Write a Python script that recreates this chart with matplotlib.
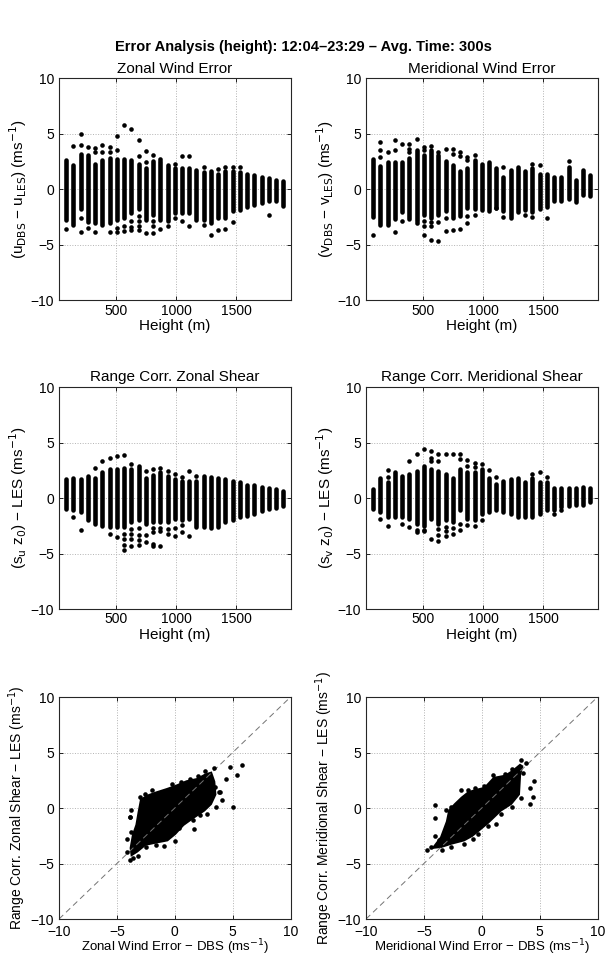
import matplotlib
matplotlib.use("Agg")
import matplotlib.pyplot as plt

plt.rcParams["font.family"] = ["Liberation Sans", "DejaVu Sans"]

# ----------------------------
# Data
# ----------------------------
HEIGHTS = [90, 150, 210, 270, 330, 390, 450, 510, 570, 630, 690, 750, 810, 870, 930, 990,
           1050, 1110, 1170, 1230, 1290, 1350, 1410, 1470, 1530, 1590, 1650, 1710, 1770, 1830, 1890]

# zonal wind error: dense column extents + isolated points (height, value)
U_LO = [-2.8, -3.2, -1.8, -3.0, -3.1, -3.2, -3.1, -2.8, -2.6, -2.2, -1.8, -2.8, -2.3, -2.8, -2.9, -2.2,
        -2.2, -2.2, -2.8, -2.8, -3.1, -2.6, -2.6, -2.0, -1.9, -1.6, -1.4, -1.3, -1.1, -1.1, -1.5]
U_HI = [2.6, 2.2, 3.2, 3.1, 2.3, 2.6, 2.8, 2.7, 2.7, 2.6, 2.3, 1.9, 2.5, 2.5, 2.2, 1.9,
        1.9, 1.9, 1.7, 1.5, 1.6, 1.4, 1.6, 1.6, 1.5, 1.4, 1.3, 1.1, 1.0, 0.8, 0.7]
U_OUT = [(90, -3.6), (150, 3.9), (210, 5.0), (210, 4.0), (210, -2.6), (210, -3.9), (270, 3.8), (270, -3.5),
         (330, 3.7), (330, 3.3), (330, -3.9), (390, 4.0), (390, 3.3), (450, 3.8), (450, 3.3), (450, -3.9),
         (510, 4.8), (510, 3.5), (510, -3.5), (510, -3.9), (570, 5.8), (570, -3.3), (570, -3.8),
         (630, 5.4), (630, -2.9), (630, -3.4), (630, -3.7), (690, 4.4), (690, 3.0), (690, -2.4),
         (690, -2.9), (690, -3.3), (690, -3.7), (750, 3.4), (750, 2.4), (750, -4.0), (810, 3.1),
         (810, -2.9), (810, -3.3), (810, -4.0), (870, 2.7), (870, -3.6), (930, -3.3), (990, 2.3),
         (990, -2.6), (1050, 3.0), (1050, -2.9), (1110, 3.0), (1110, -3.3), (1230, 2.0), (1230, -3.2),
         (1290, -4.1), (1350, 1.8), (1350, -3.7), (1410, 2.0), (1410, -3.6), (1470, 2.0), (1470, -3.0),
         (1530, 2.0), (1770, -2.3)]

# meridional wind error
V_LO = [-2.5, -3.2, -3.2, -2.7, -2.1, -2.7, -2.9, -2.3, -2.6, -2.3, -2.0, -2.6, -2.4, -1.7, -1.8, -1.9,
        -2.0, -1.7, -2.0, -2.6, -2.1, -1.9, -2.1, -1.8, -1.6, -1.1, -1.1, -0.9, -1.2, -0.5, -0.6]
V_HI = [2.7, 2.1, 2.4, 2.4, 2.4, 2.8, 3.5, 3.1, 3.5, 3.1, 2.5, 2.2, 1.6, 1.9, 2.6, 2.3,
        2.4, 1.9, 1.1, 1.7, 2.0, 1.6, 1.9, 1.4, 1.4, 1.1, 1.1, 2.0, 0.8, 1.7, 1.3]
V_OUT = [(90, -4.1), (150, 4.2), (150, 3.5), (150, 2.9), (210, 3.3), (270, 4.4), (270, 3.5), (270, -3.9),
         (330, 4.1), (330, -2.9), (390, 4.1), (390, 3.6), (390, 3.3), (450, 4.5), (450, -3.1),
         (510, 3.8), (510, 3.5), (510, -2.9), (510, -3.3), (510, -4.1), (570, 3.9), (570, -3.0),
         (570, -3.3), (570, -4.6), (630, 3.3), (630, -3.0), (630, -4.7), (690, 3.6), (690, -2.6),
         (690, -3.8), (750, 3.6), (750, 3.2), (750, -3.7), (810, 3.3), (810, 3.0), (810, -3.6),
         (870, 2.9), (870, 2.6), (870, -2.4), (870, -3.1), (930, 3.1), (930, -2.3), (1110, -1.7),
         (1170, 2.0), (1170, -2.5), (1350, -2.3), (1410, 2.3), (1410, -2.5), (1470, 2.2), (1530, -2.6),
         (1710, 2.5)]

# range corrected zonal shear
SU_LO = [-1.0, -1.1, -1.3, -2.0, -2.3, -2.5, -2.6, -2.6, -2.6, -2.2, -2.0, -2.3, -2.2, -2.2, -2.2, -1.9,
         -2.0, -1.9, -2.6, -2.6, -2.7, -2.6, -2.2, -2.0, -1.7, -1.6, -1.4, -1.2, -1.0, -0.9, -0.7]
SU_HI = [1.7, 1.8, 1.7, 2.0, 1.8, 2.3, 2.6, 2.6, 2.7, 2.6, 2.9, 1.8, 2.1, 2.3, 2.0, 1.7,
         1.5, 1.5, 1.5, 2.0, 1.9, 1.8, 1.7, 1.5, 1.4, 1.2, 1.2, 1.0, 0.9, 0.8, 0.6]
SU_OUT = [(150, -1.7), (210, -2.9), (330, 2.7), (390, 3.3), (450, 3.6), (450, -3.2), (510, 3.8),
          (510, -3.5), (570, 3.9), (570, -3.2), (570, -3.7), (570, -4.2), (570, -4.7), (630, 3.1),
          (630, -2.8), (630, -3.2), (630, -3.7), (630, -4.3), (690, -2.7), (690, -3.3), (690, -3.8),
          (690, -4.2), (750, 2.4), (750, -3.3), (750, -4.0), (810, 2.6), (810, -2.7), (810, -3.1),
          (810, -4.1), (810, -4.3), (870, 2.7), (870, -2.7), (870, -3.0), (870, -4.3), (930, 2.4),
          (930, -2.8), (930, -3.2), (990, 2.2), (990, -2.7), (990, -3.4), (1050, 1.9), (1050, -2.4),
          (1050, -3.1), (1110, 2.4), (1110, -3.4), (1170, 2.0)]

# range corrected meridional shear
SV_LO = [-1.0, -1.3, -1.7, -1.7, -1.7, -1.9, -2.3, -2.5, -1.9, -2.3, -2.0, -2.2, -1.1, -1.9, -2.0, -1.4,
         -1.3, -1.1, -1.3, -1.4, -1.7, -1.7, -1.7, -1.4, -1.1, -1.1, -0.8, -0.7, -0.6, -0.6, -0.4]
SV_HI = [0.8, 1.8, 1.4, 2.3, 2.0, 2.2, 2.4, 2.9, 2.6, 2.4, 2.2, 1.8, 2.6, 2.3, 2.3, 2.6,
         1.8, 1.3, 1.5, 1.7, 1.8, 1.4, 1.8, 1.4, 1.4, 0.9, 0.9, 0.9, 0.9, 1.0, 0.9]
SV_OUT = [(150, -1.9), (210, 2.5), (210, 1.9), (210, -2.5), (330, -2.3), (390, 3.3), (390, -2.6),
          (450, 4.0), (450, -2.9), (450, -3.1), (510, 4.4), (510, -2.9), (510, -3.0), (570, 4.2),
          (570, 3.6), (570, 3.3), (570, -3.7), (630, 4.0), (630, 3.3), (630, -2.8), (630, -3.3),
          (630, -3.9), (690, 4.0), (690, -2.6), (690, -3.0), (690, -3.4), (750, 4.0), (750, -2.7),
          (750, -3.2), (810, 4.0), (810, 3.5), (810, -2.3), (810, -2.9), (870, 3.4), (870, 2.9),
          (870, -2.4), (930, 3.2), (930, 2.8), (930, -2.5), (990, 3.1), (990, -2.0), (1050, 2.5),
          (1110, 1.9), (1410, 2.2), (1470, 2.3), (1530, 1.9), (1590, -1.4), (1650, -1.1)]

# scatter clouds: outline of the dense core + points along its ragged edge (x, y)
ZONAL_CORE_X = [-3.8, -3.9, -3.7, -3.4, -3.2, -3.0, -2.4, -1.6, -0.7, 0.1, 1.0, 1.9, 2.6, 3.2,
                3.5, 3.6, 3.2, 2.6, 1.6, 0.8, 0.1, -0.6, -1.6, -2.5, -3.2]
ZONAL_CORE_Y = [-4.4, -3.6, -2.4, -1.5, -0.3, 0.8, 1.2, 1.5, 1.8, 2.1, 2.5, 2.7, 3.1, 3.3,
                2.4, 1.2, 0.3, -0.3, -1.0, -1.6, -2.4, -3.0, -3.2, -3.4, -4.0]
ZONAL_EDGE_X = [-3.9, -4.1, -4.1, -3.8, -3.9, -3.8, -3.0, -2.6, -2.0, -0.2, 0.5, 1.3, 2.0, 2.6,
                3.4, 4.1, 3.9, 3.6, 2.8, 2.2, 1.6, 0.4, 0.0, -0.9, -1.6, -2.5, -3.2, -3.6]
ZONAL_EDGE_Y = [-4.7, -4.0, -2.8, -2.2, -0.8, -0.2, 1.0, 1.3, 1.6, 2.2, 2.3, 2.6, 2.9, 3.3,
                3.6, 0.7, 1.4, 0.1, -0.5, -0.6, -1.1, -1.8, -3.0, -3.4, -3.3, -3.5, -4.3, -4.5]
ZONAL_DOTS_X = [-3.9, 4.8, 5.8, 5.4, 4.4, 5.0, 1.7, 3.8, 3.5]
ZONAL_DOTS_Y = [-0.8, 3.7, 3.9, 3.0, 2.6, 0.1, -1.9, 1.4, 1.9]

MERID_CORE_X = [-4.4, -3.6, -3.1, -2.9, -2.4, -1.8, -1.2, -0.6, 0.2, 1.0, 2.0, 2.6, 3.3,
                3.6, 3.4, 3.3, 2.6, 1.7, 0.6, -0.2, -0.8, -1.5, -2.6, -3.5]
MERID_CORE_Y = [-3.7, -2.6, -1.2, -0.2, 0.4, 1.0, 1.5, 1.7, 1.9, 2.8, 3.0, 3.4, 4.0,
                3.8, 3.0, 1.2, 0.3, -0.3, -1.4, -2.1, -2.6, -3.0, -3.3, -3.6]
MERID_EDGE_X = [-4.7, -4.4, -4.0, -3.7, -3.4, -3.1, -2.7, -1.2, -0.6, 0.2, 1.0, 2.0, 2.6, 3.4,
                3.8, 3.6, 3.4, 2.6, 1.7, 0.5, -0.3, -0.8, -1.5, -2.7]
MERID_EDGE_Y = [-3.8, -3.5, -2.5, -2.9, -3.8, -0.2, 0.1, 1.6, 1.8, 2.0, 3.0, 3.1, 3.5, 4.3,
                4.1, 3.2, 0.9, 0.1, -0.5, -1.6, -2.3, -2.8, -3.2, -3.5]
MERID_DOTS_X = [-4.0, -4.0, -1.8, 4.5, 4.2, 4.4, 4.2, 1.2]
MERID_DOTS_Y = [0.3, -0.9, 1.6, 2.4, 1.8, 1.0, 0.4, -1.4]

UNIT = "(ms$^{-1}$)"
DOT = 3.3  # marker diameter (points)
TICK_FS = 10
TITLE_FS = 11

# ----------------------------
# Layout (MATLAB-like 3x2 subplots)
# ----------------------------
fig = plt.figure(figsize=(6.06, 9.58), dpi=100)
COL_X = [0.0974, 0.604]
ROW_Y = [0.6868, 0.3643, 0.0407]
W, H = 0.382, 0.2317


def style(ax, xpad=2.5):
    ax.grid(True, linestyle=":", color="0.7", linewidth=0.7)
    ax.set_axisbelow(True)
    ax.tick_params(direction="in", top=True, right=True, length=3, labelsize=TICK_FS, width=0.6)
    ax.tick_params(axis="x", pad=xpad)
    for s in ax.spines.values():
        s.set_linewidth(0.8)
        s.set_color("0.15")


def columns(ax, lo, hi, out, title, ylabel):
    lc = ax.vlines(HEIGHTS, lo, hi, color="k", linewidth=DOT)
    lc.set_capstyle("round")
    ax.plot([p[0] for p in out], [p[1] for p in out], "o", color="k", ms=DOT, mew=0)
    ax.set_xlim(30, 1950)
    ax.set_ylim(-10, 10)
    ax.set_xticks([500, 1000, 1500])
    ax.set_yticks([-10, -5, 0, 5, 10])
    ax.set_title(title, fontsize=TITLE_FS, pad=4)
    ax.set_xlabel("Height (m)", fontsize=11, labelpad=1)
    ax.set_ylabel(ylabel, fontsize=11, labelpad=1)
    style(ax)


def cloud(ax, cx, cy, ex, ey, dx, dy, xlabel, ylabel):
    ax.plot([-10, 10], [-10, 10], color="0.45", linestyle=(0, (6, 4)), linewidth=0.7)
    ax.fill(cx, cy, color="k", linewidth=0)
    ax.plot(ex, ey, "o", color="k", ms=DOT, mew=0)
    ax.plot(dx, dy, "o", color="k", ms=DOT, mew=0)
    ax.set_xlim(-10, 10)
    ax.set_ylim(-10, 10)
    ax.set_xticks([-10, -5, 0, 5, 10])
    ax.set_yticks([-10, -5, 0, 5, 10])
    ax.set_xlabel(xlabel, fontsize=9.5, labelpad=-1)
    ax.set_ylabel(ylabel, fontsize=10, labelpad=2)
    style(ax, xpad=4)


ax = fig.add_axes([COL_X[0], ROW_Y[0], W, H])
columns(ax, U_LO, U_HI, U_OUT, "Zonal Wind Error", "(u$_{\\rm DBS}$ − u$_{\\rm LES}$) " + UNIT)
ax = fig.add_axes([COL_X[1], ROW_Y[0], W, H])
columns(ax, V_LO, V_HI, V_OUT, "Meridional Wind Error", "(v$_{\\rm DBS}$ − v$_{\\rm LES}$) " + UNIT)
ax = fig.add_axes([COL_X[0], ROW_Y[1], W, H])
columns(ax, SU_LO, SU_HI, SU_OUT, "Range Corr. Zonal Shear", "(s$_{\\rm u}$ z$_0$) − LES " + UNIT)
ax = fig.add_axes([COL_X[1], ROW_Y[1], W, H])
columns(ax, SV_LO, SV_HI, SV_OUT, "Range Corr. Meridional Shear", "(s$_{\\rm v}$ z$_0$) − LES " + UNIT)

ax = fig.add_axes([COL_X[0], ROW_Y[2], W, H])
cloud(ax, ZONAL_CORE_X, ZONAL_CORE_Y, ZONAL_EDGE_X, ZONAL_EDGE_Y, ZONAL_DOTS_X, ZONAL_DOTS_Y,
      "Zonal Wind Error − DBS " + UNIT, "Range Corr. Zonal Shear − LES " + UNIT)
ax = fig.add_axes([COL_X[1], ROW_Y[2], W, H])
cloud(ax, MERID_CORE_X, MERID_CORE_Y, MERID_EDGE_X, MERID_EDGE_Y, MERID_DOTS_X, MERID_DOTS_Y,
      "Meridional Wind Error − DBS " + UNIT, "Range Corr. Meridional Shear − LES " + UNIT)

fig.text(0.5, 0.951, "Error Analysis (height): 12:04–23:29 – Avg. Time: 300s",
         ha="center", va="center", fontsize=10.5, fontweight="bold")

fig.savefig("out.png", dpi=100)
